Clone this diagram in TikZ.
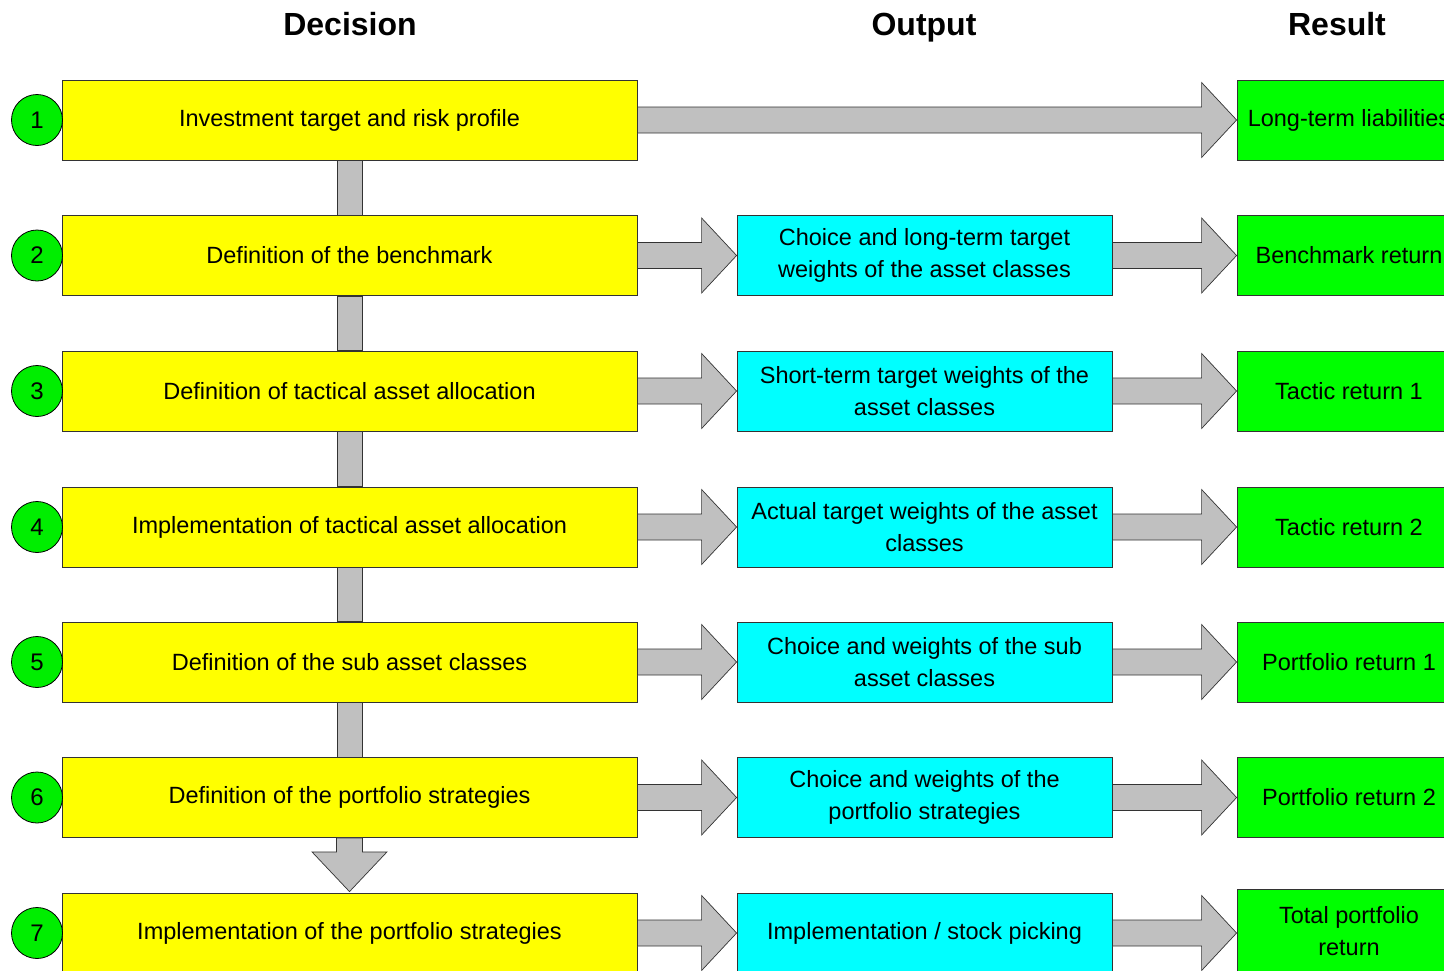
\documentclass[tikz,border=0pt]{standalone}
\usepackage{fontspec}
\setmainfont{Liberation Sans}
\usetikzlibrary{calc}
\definecolor{decyellow}{HTML}{FFFF00}
\definecolor{outcyan}{HTML}{00FFFF}
\definecolor{resgreen}{HTML}{00FF00}
\definecolor{stepgreen}{HTML}{00EE00}
\definecolor{arrowgray}{HTML}{C0C0C0}
\definecolor{edgegray}{HTML}{333333}

\tikzset{
  boxbase/.style={draw=edgegray, line width=0.8pt, minimum height=80pt, inner sep=0pt,
    align=center, font=\fontsize{23.5}{32}\selectfont},
  decbox/.style={boxbase, fill=decyellow, minimum width=575pt},
  outbox/.style={boxbase, fill=outcyan, minimum width=375pt},
  resbox/.style={boxbase, fill=resgreen, minimum width=224pt},
  stepnum/.style={circle, draw=black, line width=0.8pt, fill=stepgreen, minimum size=51pt,
    inner sep=0pt, font=\fontsize{24}{28}\selectfont},
  header/.style={anchor=base, font=\fontsize{32}{36}\selectfont\bfseries},
  blockarrow/.style={draw=black!80, line width=0.7pt, fill=arrowgray},
}

% horizontal block arrow from the east side of #1 to the west side of #2
\newcommand\harrow[2]{%
  \draw[blockarrow] let \p1=(#1.east), \p2=(#2.west) in
    (\x1,\y1+13pt) -- (\x2-35pt,\y1+13pt) -- (\x2-35pt,\y1+37.5pt) -- (\x2,\y1)
    -- (\x2-35pt,\y1-37.5pt) -- (\x2-35pt,\y1-13pt) -- (\x1,\y1-13pt) -- cycle;}
% vertical link between two decision boxes
\newcommand\vlink[2]{%
  \draw[blockarrow] let \p1=(#1.south), \p2=(#2.north) in
    (\x1-12.5pt,\y1) rectangle (\x1+12.5pt,\y2);}

\begin{document}
\begin{tikzpicture}[x=1pt,y=-1pt]
\useasboundingbox (0,0) rectangle (1444,970);
\clip (0,0) rectangle (1444,970);

% column headers
\node[header] (hdec) at (350,35) {Decision};
\node[header] (hout) at (924,35) {Output};
\node[header] (hres) at (1337,35) {Result};

% decision column
\node[decbox] (d1) at (349.5,120)   {Investment target and risk profile};
\node[decbox] (d2) at (349.5,255.5) {Definition of the benchmark};
\node[decbox] (d3) at (349.5,391)   {Definition of tactical asset allocation};
\node[decbox] (d4) at (349.5,527)   {Implementation of tactical asset allocation};
\node[decbox] (d5) at (349.5,662)   {Definition of the sub asset classes};
\node[decbox] (d6) at (349.5,797.5) {Definition of the portfolio strategies};
\node[decbox] (d7) at (349.5,933)   {Implementation of the portfolio strategies};

% step numbers
\foreach \i/\y in {1/120,2/255.5,3/391,4/527,5/662,6/797.5,7/933}
  \node[stepnum] (n\i) at (37,\y) {\i};

% output column
\node[outbox] (o2) at (924.5,255.5) {Choice and long-term target\\weights of the asset classes};
\node[outbox] (o3) at (924.5,391)   {Short-term target weights of the\\asset classes};
\node[outbox] (o4) at (924.5,527)   {Actual target weights of the asset\\classes};
\node[outbox] (o5) at (924.5,662)   {Choice and weights of the sub\\asset classes};
\node[outbox] (o6) at (924.5,797.5) {Choice and weights of the\\portfolio strategies};
\node[outbox] (o7) at (924.5,933)   {Implementation / stock picking};

% result column
\node[resbox] (r1) at (1349,120)   {Long-term liabilities};
\node[resbox] (r2) at (1349,255.5) {Benchmark return};
\node[resbox] (r3) at (1349,391)   {Tactic return 1};
\node[resbox] (r4) at (1349,527)   {Tactic return 2};
\node[resbox] (r5) at (1349,662)   {Portfolio return 1};
\node[resbox] (r6) at (1349,797.5) {Portfolio return 2};
\node[resbox, minimum height=84pt] (r7) at (1349,931) {Total portfolio\\return};

% horizontal arrows
\harrow{d1}{r1}
\foreach \i in {2,...,7}{
  \harrow{d\i}{o\i}
  \harrow{o\i}{r\i}
}

% vertical links
\vlink{d1}{d2}
\vlink{d2}{d3}
\vlink{d3}{d4}
\vlink{d4}{d5}
\vlink{d5}{d6}
\draw[blockarrow] let \p1=(d6.south), \p2=(d7.north) in
  (\x1-13pt,\y1) -- (\x1-13pt,\y1-14pt) -- (\x1-37.5pt,\y1-14pt) -- (\x1,\y2+1pt)
  -- (\x1+37.5pt,\y1-14pt) -- (\x1+13pt,\y1-14pt) -- (\x1+13pt,\y1) -- cycle;
\end{tikzpicture}
\end{document}
